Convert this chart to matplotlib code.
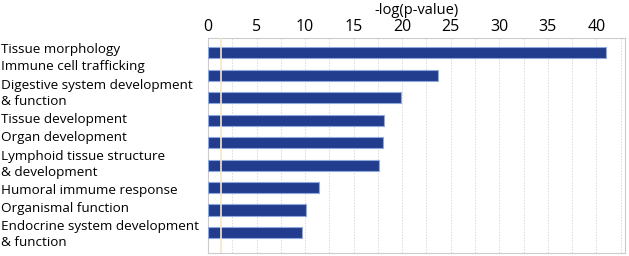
import matplotlib
matplotlib.use("Agg")
import matplotlib.pyplot as plt
import numpy as np

categories = [
    "Tissue morphology",
    "Immune cell trafficking",
    "Digestive system development\n& function",
    "Tissue development",
    "Organ development",
    "Lymphoid tissue structure\n& development",
    "Humoral immume response",
    "Organismal function",
    "Endocrine system development\n& function",
]
neg_log_p = [41.0, 23.7, 19.9, 18.1, 18.0, 17.6, 11.4, 10.1, 9.7]
threshold = 1.3
xticks = [0, 5, 10, 15, 20, 25, 30, 35, 40]

plt.rcParams["font.family"] = ["Open Sans", "DejaVu Sans"]

W, H = 629, 256
fig = plt.figure(figsize=(W / 100, H / 100), dpi=100)
ax = fig.add_axes([208 / W, 3 / H, 417 / W, 215 / H])

y = np.arange(len(categories))
ax.barh(y, neg_log_p, height=0.5, color="#233d8e", edgecolor="#8fa8dd",
        linewidth=0.8, zorder=3)
ax.axvline(threshold, color="#f7e6c8", linewidth=1.2, zorder=4)

ax.set_xlim(0, 42.95)
ax.set_ylim(8.91, -0.66)
ax.set_xticks(np.arange(0, 42.95, 2.5), minor=True)
ax.set_xticks(xticks)
ax.xaxis.tick_top()
ax.xaxis.set_label_position("top")
ax.set_xlabel("-log(p-value)", fontsize=10.5, labelpad=4)
ax.tick_params(axis="x", which="both", length=0, labelsize=11.5, pad=2)
ax.grid(axis="x", which="both", color="#d9d9d9", linestyle=(0, (1.5, 1.5)),
        linewidth=0.7, zorder=0)

# category labels are stacked as a plain text column on the left,
# not centred on each bar (as in the original figure)
ax.set_yticks([])
line_step = 17.7   # px between text lines
first_line = 49    # px from top of figure
line_no = 0
for label in categories:
    n = label.count("\n") + 1
    centre = first_line + (line_no + (n - 1) / 2) * line_step
    fig.text(1 / W, 1 - centre / H, label, fontsize=9.7, ha="left",
             va="center", linespacing=1.3)
    line_no += n

for s in ax.spines.values():
    s.set_color("#cccccc")
    s.set_linewidth(0.8)

fig.savefig("out.png", dpi=100)
